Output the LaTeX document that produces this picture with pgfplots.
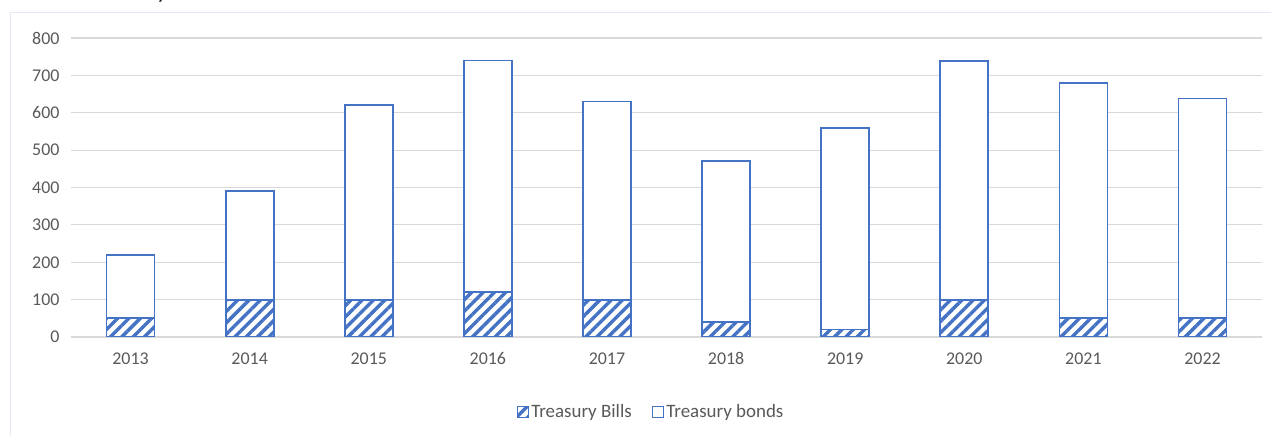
\documentclass[border=0pt]{standalone}
\usepackage{pgfplots}
\pgfplotsset{compat=1.18}
\usetikzlibrary{patterns.meta}
\usepackage{fontspec}
\setmainfont{Carlito}
\definecolor{barblue}{RGB}{68,114,196}
\definecolor{gridgray}{RGB}{217,217,217}
\definecolor{txtgray}{RGB}{89,89,89}
\definecolor{framec}{RGB}{228,232,245}
\begin{document}
\begin{tikzpicture}[x=1bp,y=1bp]
\path[use as bounding box] (0,0) rectangle (1271,436);
\draw[framec, line width=1bp] (10.5,0) -- (10.5,423.5) -- (1271,423.5);
\begin{scope}
\clip (0,0) rectangle (1271,436);
\node[anchor=base, inner sep=0pt, font=\fontsize{24}{28}\selectfont, text=black!85] at (162,437.5) {y};
\end{scope}
\begin{axis}[
  at={(71bp,99bp)}, anchor=south west,
  scale only axis, width=1191bp, height=299bp,
  ymin=0, ymax=800, xmin=-0.5, xmax=9.5,
  ybar stacked, bar width=48bp,
  axis lines*=left, axis line style={draw=none},
  ymajorgrids, grid style={gridgray, line width=1.2bp},
  major tick length=0pt,
  xtick={0,...,9}, xticklabels={2013,2014,2015,2016,2017,2018,2019,2020,2021,2022},
  ytick={0,100,...,800},
  tick label style={font=\fontsize{18}{21}\selectfont, text=txtgray},
  /pgf/number format/assume math mode=true,
  yticklabel style={xshift=-8bp},
  xticklabel style={yshift=-12bp},
  legend style={at={(0.487,-0.251)}, anchor=center, draw=none, fill=none, legend columns=2,
     font=\fontsize{19}{22}\selectfont, text=txtgray,
     /tikz/every even column/.append style={column sep=18bp},
     /tikz/every odd column/.append style={column sep=0bp}},
  legend cell align=left,
  legend image code/.code={\draw[#1, line width=1.6bp] (0bp,-5.5bp) rectangle (11bp,5.5bp);},
]
\addplot[draw=barblue, line width=1.8bp, pattern={Lines[angle=45,distance=8bp,line width=3.4bp]}, pattern color=barblue]
  coordinates {(0,50) (1,100) (2,100) (3,120) (4,100) (5,40) (6,20) (7,100) (8,50) (9,50)};
\addlegendentry{Treasury Bills}
\addplot[draw=barblue, line width=1.8bp, fill=white]
  coordinates {(0,170) (1,290) (2,520) (3,620) (4,530) (5,430) (6,540) (7,638) (8,630) (9,588)};
\addlegendentry{Treasury bonds}
\end{axis}
\end{tikzpicture}
\end{document}
